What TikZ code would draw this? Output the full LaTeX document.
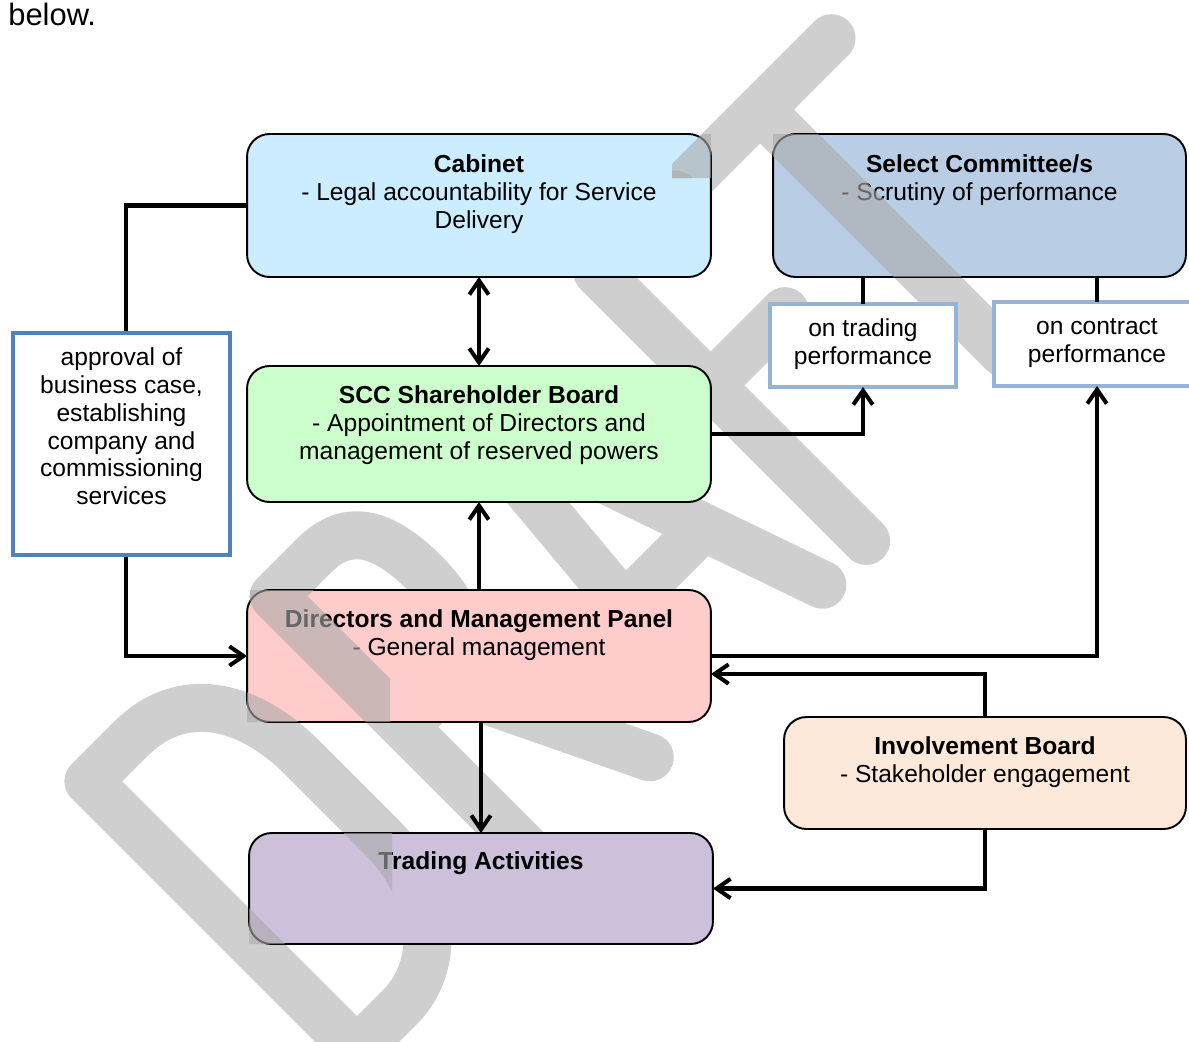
\documentclass[tikz,border=0pt]{standalone}
\usepackage{fontspec}
\setmainfont{Liberation Sans}
\usetikzlibrary{arrows.meta,calc}
\definecolor{cabblue}{RGB}{204,236,255}
\definecolor{selblue}{RGB}{185,205,229}
\definecolor{sccgreen}{RGB}{204,255,204}
\definecolor{dirpink}{RGB}{255,204,204}
\definecolor{tradpurple}{RGB}{204,192,218}
\definecolor{invpeach}{RGB}{253,233,217}
\definecolor{apprblue}{RGB}{79,129,189}
\definecolor{perfblue}{RGB}{149,179,215}
\definecolor{wmback}{gray}{0.81}
\definecolor{wmtop}{gray}{0.667}
\newcommand{\firstl}{\rule{0pt}{14pt}}
\newcommand{\draftletters}[1]{%
  \begin{scope}[x={(0.014142cm,0.014142cm)},y={(-0.014142cm,0.014142cm)}]
    % D
    \draw[wm,#1] (-490,-995) -- (-490,-615) -- (-430,-615)
      .. controls (-360,-615) and (-322,-670) .. (-322,-750) -- (-322,-860)
      .. controls (-322,-940) and (-370,-995) .. (-430,-995) -- cycle;
    % R
    \draw[wm,#1] (-228,-995) -- (-228,-615) -- (-170,-615)
      .. controls (-125,-615) and (-105,-645) .. (-105,-705)
      .. controls (-105,-765) and (-130,-800) .. (-175,-800) -- (-228,-800);
    \draw[wm,#1] (-170,-800) -- (-76,-995);
    % A
    \draw[wm,#1] (5,-960) -- (36,-615) -- (168,-995);
    \draw[wm,#1] (16,-870) -- (124,-870);
    % F
    \draw[wm,#1] (230,-995) -- (230,-615) -- (340,-615);
    \draw[wm,#1] (230,-775) -- (335,-775);
    % T
    \draw[wm,#1] (362,-615) -- (561,-615);
    \draw[wm,#1] (460,-615) -- (460,-960);
  \end{scope}}
\begin{document}
\begin{tikzpicture}[x=0.02cm,y=-0.02cm,
  >={Straight Barb[length=8pt,width=11pt]},
  box/.style={draw=black,line width=1.1pt,rounded corners=0.45cm,inner sep=0pt,outer sep=0pt},
  outbox/.style={draw=#1,line width=2.1pt,fill=white,inner sep=0pt,outer sep=0pt},
  conn/.style={line width=2.3pt,draw=black},
  txt/.style={anchor=north,align=center,inner sep=0pt,font=\fontsize{14pt}{15.9pt}\selectfont},
  wm/.style={line width=0.96cm,line cap=round,line join=round}]

\useasboundingbox (0,0) rectangle (1189,1041);
\clip (0,0) rectangle (1189,1041);

% watermark (behind)
\draftletters{draw=wmback}

\node[anchor=base west,inner sep=0pt,font=\fontsize{17.6pt}{20pt}\selectfont] (below) at (8,25) {below.};

% boxes
\node[box,fill=cabblue,minimum width=9.28cm,minimum height=2.86cm] (cab) at (479,205.5) {};
\node[box,fill=selblue,minimum width=8.26cm,minimum height=2.86cm] (sel) at (979.5,205.5) {};
\node[box,fill=sccgreen,minimum width=9.28cm,minimum height=2.72cm] (scc) at (479,434) {};
\node[box,fill=dirpink,minimum width=9.28cm,minimum height=2.64cm] (dir) at (479,656) {};
\node[box,fill=tradpurple,minimum width=9.28cm,minimum height=2.22cm] (trad) at (481,888.5) {};
\node[box,fill=invpeach,minimum width=8.04cm,minimum height=2.24cm] (inv) at (985,773) {};
\node[outbox=perfblue,minimum width=3.72cm,minimum height=1.66cm] (ontr) at (863,345.5) {};
\node[outbox=perfblue,minimum width=4.12cm,minimum height=1.68cm] (oncon) at (1097,344) {};

% connectors
\draw[conn,->] (cab.west) -- ++(-121,0) |- (dir.west);
\draw[conn,<->] (cab.south) -- (scc.north);
\draw[conn,->] (scc.east) -| (ontr.south);
\draw[conn] (sel.south -| ontr.north) -- (ontr.north);
\draw[conn] (sel.south -| oncon.north) -- (oncon.north);
\draw[conn,->] (dir.east) -| (oncon.south);
\draw[conn,->] (dir.north) -- (scc.south);
\draw[conn,->] (trad.north |- dir.south) -- (trad.north);
\draw[conn,->] (inv.north) |- ($(dir.east)+(0,18)$);
\draw[conn,->] (inv.south) |- (trad.east);

% approval box (covers the connector passing behind it)
\node[outbox=apprblue,line width=2.4pt,minimum width=4.34cm,minimum height=4.44cm] (appr) at (121.5,444) {};

% texts
\node[txt] (cabT) at (479,147.3) {\firstl\textbf{Cabinet}\\- Legal accountability for Service\\Delivery};
\node[txt] (selT) at (979.5,147.3) {\firstl\textbf{Select Committee/s}\\- Scrutiny of performance};
\node[txt] (sccT) at (479,378.3) {\firstl\textbf{SCC Shareholder Board}\\- Appointment of Directors and\\management of reserved powers};
\node[txt] (dirT) at (479,602.3) {\firstl\textbf{Directors and Management Panel}\\- General management};
\node[txt] (tradT) at (481,844.3) {\firstl\textbf{Trading Activities}};
\node[txt] (invT) at (985,729.3) {\firstl\textbf{Involvement Board}\\- Stakeholder engagement};
\node[txt] (apprT) at (121.5,340.3) {\firstl approval of\\business case,\\establishing\\company and\\commissioning\\services};
\node[txt] (ontrT) at (863,311.3) {\firstl on trading\\performance};
\node[txt] (onconT) at (1097,309.3) {\firstl on contract\\performance};

% watermark parts that lie over some boxes
\begin{scope}
  \clip (773,134) rectangle (1186,277)
        (672,134) rectangle (711,178)
        (247,590) rectangle (390,722)
        (249,833) rectangle (392,944);
  \draftletters{draw=wmtop,draw opacity=0.6}
\end{scope}
\end{tikzpicture}
\end{document}
